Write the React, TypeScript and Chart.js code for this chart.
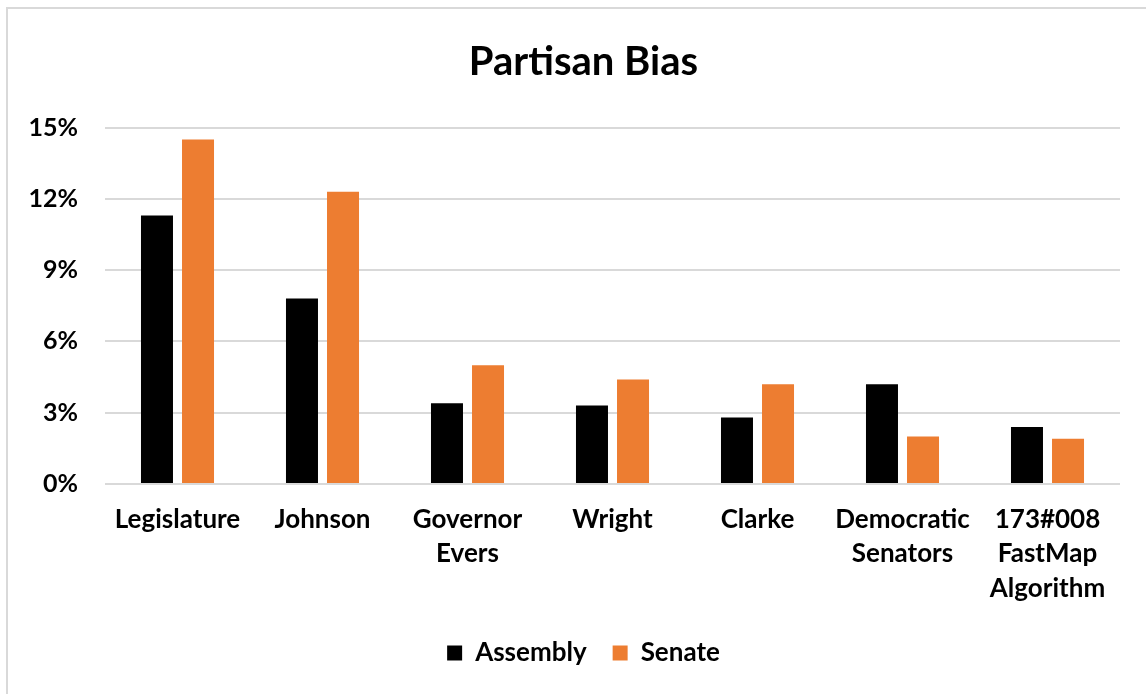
import React, { useEffect, useRef } from "react";
import { Chart, registerables } from "chart.js";

Chart.register(...registerables);

const categories: string[][] = [
  ["Legislature"],
  ["Johnson"],
  ["Governor", "Evers"],
  ["Wright"],
  ["Clarke"],
  ["Democratic", "Senators"],
  ["173#008", "FastMap", "Algorithm"],
];
const assembly: number[] = [11.3, 7.8, 3.4, 3.3, 2.8, 4.2, 2.4];
const senate: number[] = [14.5, 12.3, 5.0, 4.4, 4.2, 2.0, 1.9];
const yTicks = { min: 0, max: 15, step: 3 };

const FONT = "Lato, 'Open Sans', sans-serif";

export default function App() {
  const ref = useRef<HTMLCanvasElement | null>(null);
  useEffect(() => {
    if (!ref.current) return;
    const chart = new Chart(ref.current, {
      type: "bar",
      data: {
        labels: categories as any,
        datasets: [
          {
            label: "Assembly",
            data: assembly,
            backgroundColor: "#000000",
            barPercentage: 0.78,
            categoryPercentage: 0.566,
          },
          {
            label: "Senate",
            data: senate,
            backgroundColor: "#ED7D31",
            barPercentage: 0.78,
            categoryPercentage: 0.566,
          },
        ],
      },
      options: {
        responsive: false,
        animation: false,
        layout: { padding: { left: 0, right: 0, top: 0, bottom: 18 } },
        plugins: {
          title: {
            display: true,
            text: "Partisan Bias",
            color: "#000",
            font: { family: FONT, size: 40, weight: "bold" },
            padding: { top: 29.5, bottom: 41 },
          },
          legend: {
            position: "bottom",
            labels: {
              color: "#000",
              font: { family: FONT, size: 26, weight: "bold" },
              boxWidth: 15,
              boxHeight: 15,
              padding: 26,
            },
          },
          tooltip: { enabled: false },
        },
        scales: {
          x: {
            grid: { display: false },
            border: { display: false },
            ticks: {
              color: "#000",
              font: { family: FONT, size: 26, weight: "bold", lineHeight: 1.33 },
              padding: 10,
              maxRotation: 0,
              autoSkip: false,
            },
            afterFit: (s: any) => {
              s.height = 130;
            },
          },
          y: {
            min: yTicks.min,
            max: yTicks.max,
            grid: { color: "#D9D9D9", lineWidth: 2, drawTicks: false },
            border: { display: false },
            ticks: {
              stepSize: yTicks.step,
              color: "#000",
              padding: 27,
              font: { family: FONT, size: 25, weight: "bold" },
              callback: (v: any) => v + "%",
            },
            afterFit: (s: any) => {
              s.width = 97;
            },
          },
          yRight: {
            position: "right",
            display: true,
            grid: { display: false, drawTicks: false },
            border: { display: false },
            ticks: { display: false },
            afterFit: (s: any) => {
              s.width = 39;
            },
          },
        },
      },
    });
    return () => chart.destroy();
  }, []);

  return (
    <div style={{ position: "fixed", left: 0, top: 0, width: 1146, height: 694, overflow: "hidden", background: "#fff" }}>
      <div
        style={{
          position: "absolute",
          left: 6,
          top: 7,
          borderTop: "2px solid #D9D9D9",
          borderLeft: "2px solid #D9D9D9",
          width: 1151,
          height: 685,
        }}
      >
        <canvas ref={ref} width={1151} height={685} style={{ display: "block" }} />
      </div>
    </div>
  );
}
